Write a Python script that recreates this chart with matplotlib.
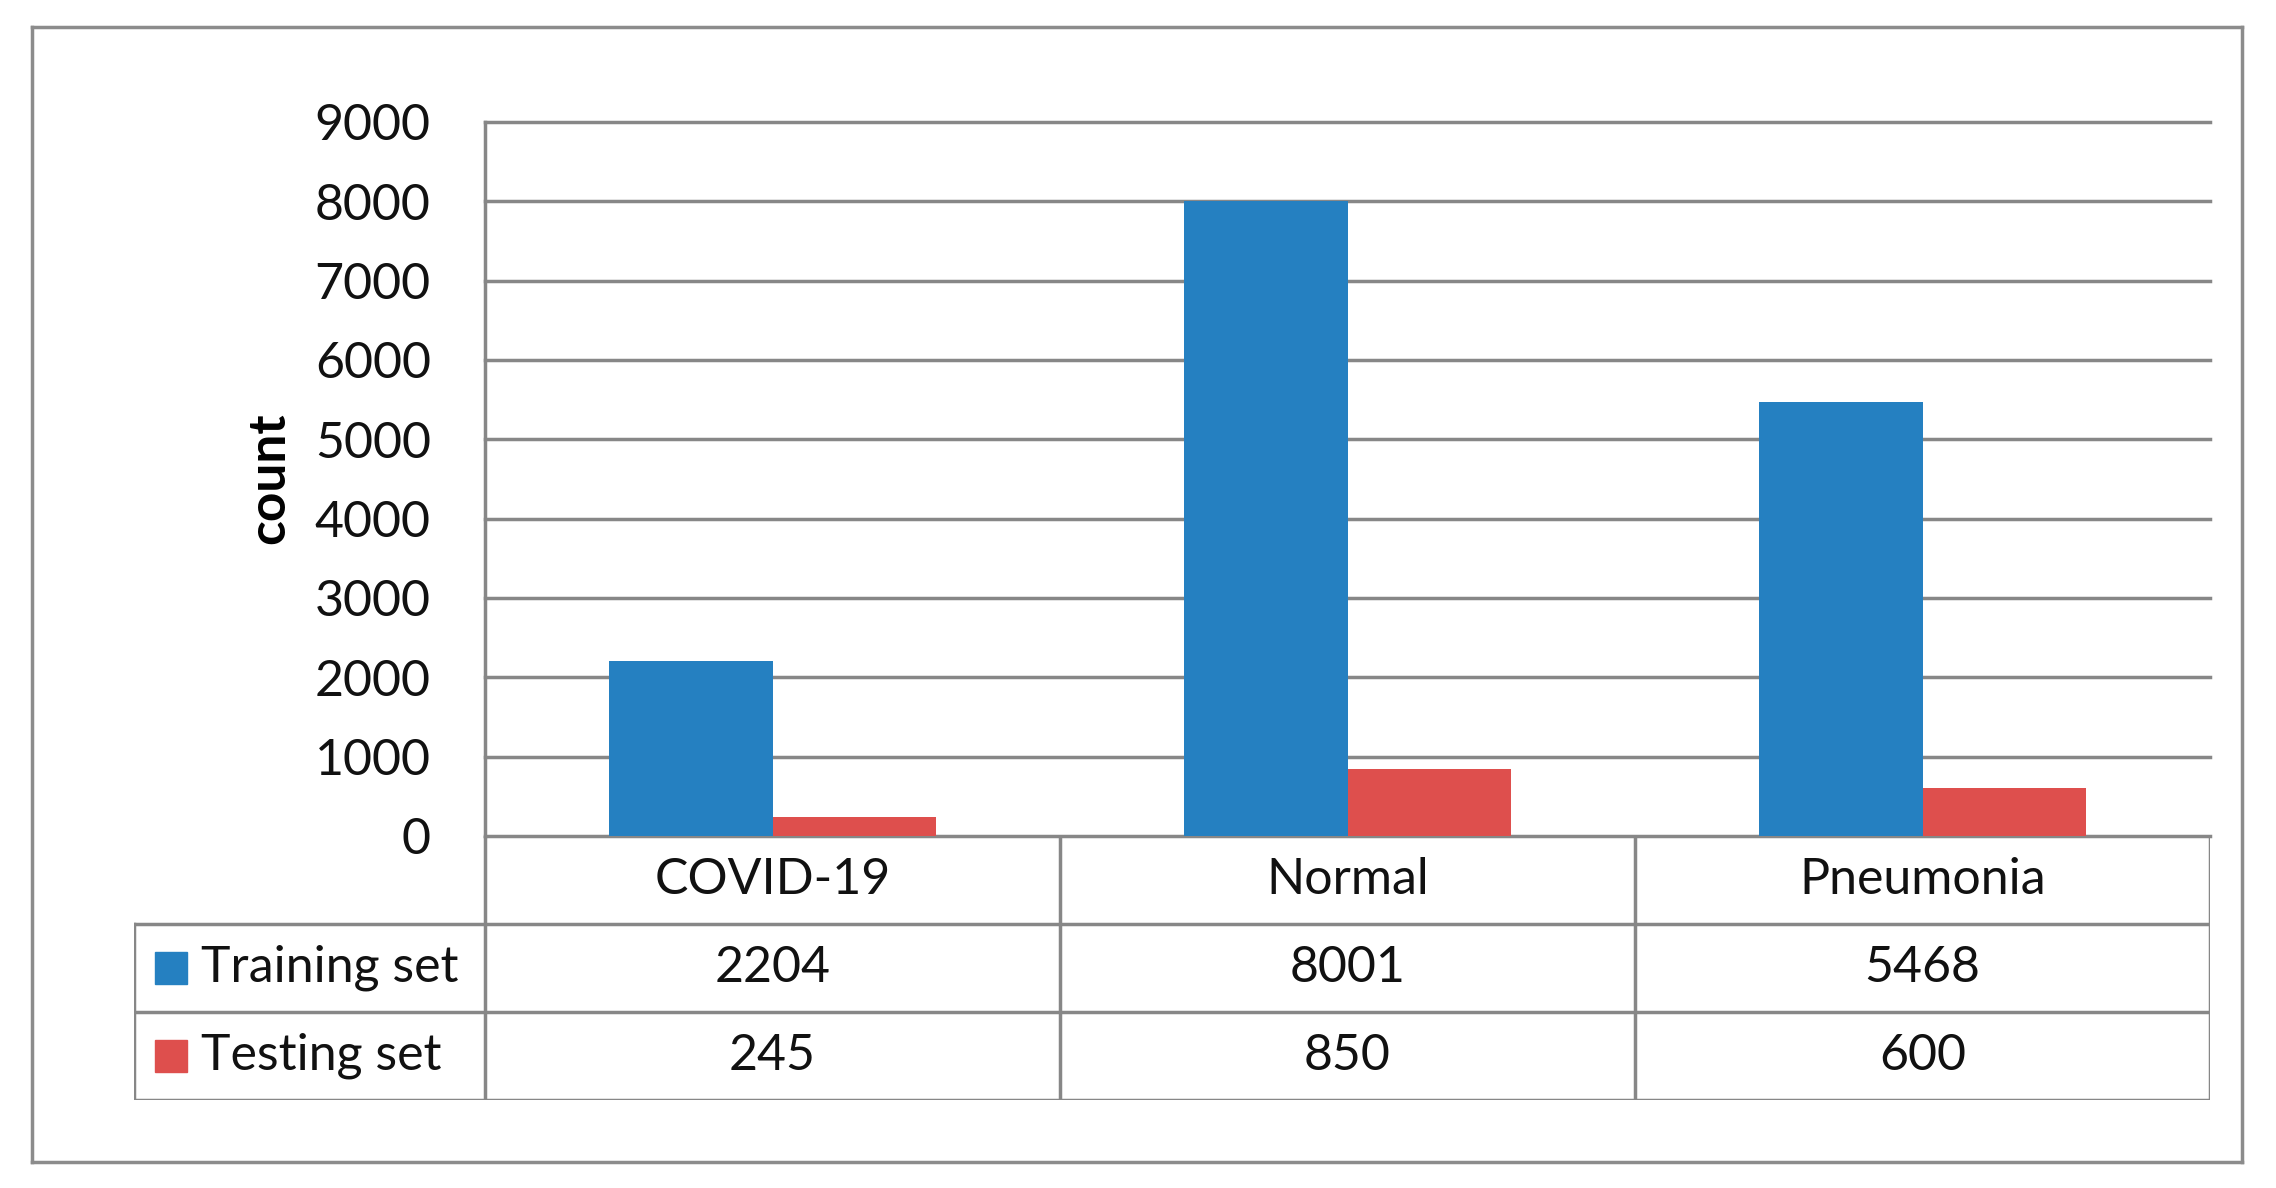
import matplotlib
matplotlib.use('Agg')
import matplotlib.pyplot as plt
from matplotlib.patches import Rectangle

categories = ['COVID-19', 'Normal', 'Pneumonia']
series_names = ['Training set', 'Testing set']
training = [2204, 8001, 5468]
testing = [245, 850, 600]
yticks = [0, 1000, 2000, 3000, 4000, 5000, 6000, 7000, 8000, 9000]

colors = ['#2580c1', '#de4f4d']
line_gray = '#878787'

plt.rcParams['font.family'] = ['Lato', 'DejaVu Sans']

W, H = 2276, 1188
fig = plt.figure(figsize=(W / 100, H / 100), dpi=100)


def px_box(x0, y0, x1, y1):
    # pixel box (top-left origin) -> figure fraction rect
    return [x0 / W, 1 - y1 / H, (x1 - x0) / W, (y1 - y0) / H]


# outer frame
frame = fig.add_axes(px_box(32, 27, 2242, 1162))
frame.set_xticks([])
frame.set_yticks([])
for s in frame.spines.values():
    s.set_color('#8c8c8c')
    s.set_linewidth(2.5)
frame.patch.set_alpha(0)

plot_left, plot_right = 485, 2210
y_zero, y_top = 836, 122
ax = fig.add_axes(px_box(plot_left, y_top, plot_right, y_zero))
ax.set_xlim(0, len(categories))
ax.set_ylim(0, 9000)
w = 0.285
xs = [i + 0.5 for i in range(len(categories))]
ax.bar([x - w / 2 for x in xs], training, width=w, color=colors[0], zorder=3)
ax.bar([x + w / 2 for x in xs], testing, width=w, color=colors[1], zorder=3)
for t in yticks:
    ax.axhline(t, color=line_gray, lw=2.5, zorder=2, clip_on=False)
for s in ['top', 'right', 'bottom']:
    ax.spines[s].set_visible(False)
ax.spines['left'].set_color(line_gray)
ax.spines['left'].set_linewidth(2.5)
ax.set_xticks([])
ax.set_yticks(yticks)
ax.set_yticklabels([str(t) for t in yticks], fontsize=36, color='#111111')
ax.tick_params(axis='y', length=0, pad=39)
ax.patch.set_alpha(0)

fig.text(270 / W, 1 - 478 / H, 'count', rotation=90, fontsize=37,
         fontweight='bold', ha='center', va='center')

# data table under the chart
col_w = (plot_right - plot_left) / len(categories)
tab_left = 134
lead = (plot_left - tab_left) / col_w
tab = fig.add_axes(px_box(tab_left, y_zero, plot_right, 1100))
tab.set_xlim(-lead, len(categories))
tab.set_ylim(3, 0)
tab.axis('off')
lw = 2.5
n = len(categories)
for i in range(n + 1):
    tab.plot([i, i], [0, 3], color=line_gray, lw=lw, solid_capstyle='projecting')
tab.plot([-lead, -lead], [1, 3], color=line_gray, lw=lw, solid_capstyle='projecting')
for r in [1, 2, 3]:
    tab.plot([-lead, n], [r, r], color=line_gray, lw=lw, solid_capstyle='projecting')

for i, c in enumerate(categories):
    tab.text(i + 0.5, 0.5, c, ha='center', va='center', fontsize=36, color='#111111')
rows = [training, testing]
sq_w = 32 / col_w
for r, (name, vals) in enumerate(zip(series_names, rows)):
    yc = r + 1.5
    tab.add_patch(Rectangle((-lead + 21 / col_w, yc - 0.18), sq_w, 0.36,
                            color=colors[r], clip_on=False))
    tab.text(-lead + 67 / col_w, yc, name, ha='left', va='center',
             fontsize=36, color='#111111')
    for i, v in enumerate(vals):
        tab.text(i + 0.5, yc, str(v), ha='center', va='center', fontsize=36,
                 color='#111111')

fig.savefig('out.png', dpi=100)
